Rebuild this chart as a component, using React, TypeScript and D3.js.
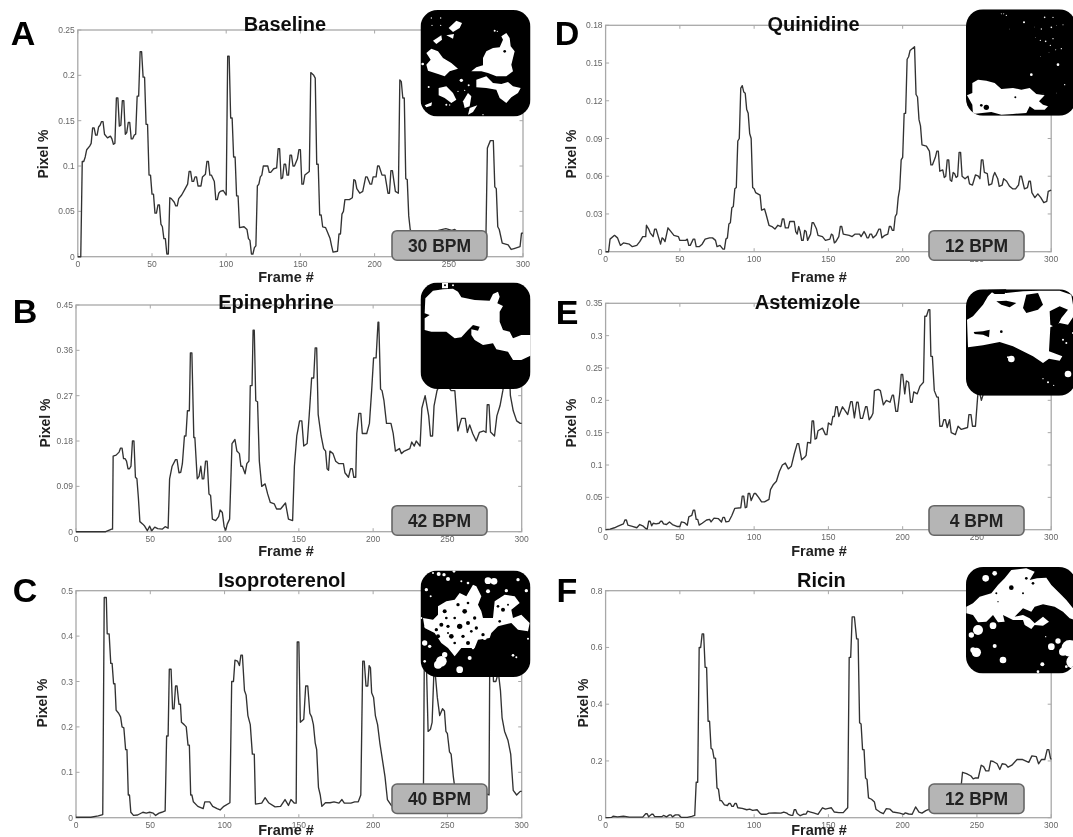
import React from "react";
import * as d3 from "d3";

type Pt = [number, number];
type Dot = [number, number, number];

const xTicks = [0, 50, 100, 150, 200, 250, 300];
const yTicksA = [0, 0.05, 0.1, 0.15, 0.2, 0.25];
const yTicksB = [0, 0.09, 0.18, 0.27, 0.36, 0.45];
const yTicksC = [0, 0.1, 0.2, 0.3, 0.4, 0.5];
const yTicksD = [0, 0.03, 0.06, 0.09, 0.12, 0.15, 0.18];
const yTicksE = [0, 0.05, 0.1, 0.15, 0.2, 0.25, 0.3, 0.35];
const yTicksF = [0, 0.2, 0.4, 0.6, 0.8];

const traceA: Pt[] = [[0,0],[2,0],[3,.105],[4,.105],[5,.11],[6,.118],[8,.122],[9,.125],[10,.142],[11,.142],[12,.134],[13,.134],[14,.143],[15,.145],[16,.149],[17,.149],[18,.135],[20,.131],[22,.133],[23,.13],[24,.124],[25,.125],[26,.175],[27,.175],[28,.144],[29,.145],[30,.172],[31,.172],[32,.135],[33,.137],[34,.148],[35,.148],[36,.13],[37,.13],[38,.134],[39,.135],[40,.177],[41,.177],[42,.226],[43,.226],[44,.198],[45,.198],[46,.146],[47,.146],[48,.09],[49,.09],[50,.069],[51,.069],[52,.048],[53,.048],[54,.057],[55,.057],[56,.036],[57,.033],[58,.02],[59,.02],[60,.003],[61,.003],[62,.065],[63,.064],[65,.06],[66,.056],[67,.056],[68,.064],[70,.068],[72,.074],[74,.08],[75,.094],[76,.094],[77,.083],[78,.083],[79,.088],[80,.088],[81,.078],[83,.078],[84,.088],[86,.091],[87,.105],[88,.105],[89,.09],[90,.09],[92,.083],[93,.063],[94,.063],[95,.07],[96,.072],[98,.073],[100,.068],[101,.221],[102,.221],[103,.153],[104,.153],[105,.11],[106,.11],[107,.067],[108,.067],[109,.032],[112,.033],[114,.03],[115,.02],[116,.018],[117,.003],[118,.003],[119,.01],[120,.012],[121,.078],[122,.08],[123,.088],[124,.09],[125,.1],[128,.1],[129,.093],[130,.093],[132,.097],[134,.098],[135,.119],[136,.119],[137,.086],[138,.087],[139,.102],[140,.102],[141,.09],[142,.09],[143,.112],[144,.112],[145,.1],[146,.1],[148,.108],[149,.118],[150,.118],[151,.08],[152,.08],[153,.09],[156,.094],[157,.203],[159,.2],[160,.197],[161,.102],[162,.102],[163,.046],[164,.046],[165,.033],[167,.032],[168,.028],[170,.02],[171,.012],[172,.005],[175,.006],[176,.025],[177,.025],[178,.047],[179,.05],[180,.063],[183,.063],[185,.065],[186,.085],[187,.084],[188,.075],[190,.07],[192,.072],[194,.088],[195,.088],[197,.08],[198,.08],[199,.088],[201,.088],[202,.1],[203,.1],[205,.09],[207,.09],[209,.07],[210,.07],[211,.095],[212,.095],[214,.072],[216,.07],[217,.195],[218,.193],[219,.175],[220,.175],[221,.086],[222,.085],[223,.045],[224,.03],[226,.025],[230,.02],[240,.025],[243,.029],[248,.031],[252,.029],[254,.03],[258,.025],[265,.02],[272,.018],[275,.02],[276,.12],[278,.128],[280,.128],[281,.077],[282,.075],[283,.033],[284,.03],[286,.015],[290,.013],[292,.008],[294,.009],[298,.011],[299,.026],[300,.026]];
const traceB: Pt[] = [[0,0],[20,0],[24,.005],[24.6,.005],[25,.15],[27,.152],[29,.158],[30,.166],[31,.166],[32,.145],[33,.145],[34,.14],[35,.125],[36,.125],[37,.13],[38,.18],[39,.18],[40,.108],[41,.105],[42,.067],[43,.02],[45,.015],[46,.012],[48,.002],[49.6,.011],[51,.002],[53,.009],[55,.006],[58,.005],[60,.01],[62,.007],[63,.105],[64.7,.13],[67,.143],[68,.143],[69.3,.117],[70.5,.118],[71.6,.135],[73,.19],[74,.19],[75,.24],[76.3,.24],[77,.355],[78,.355],[79.3,.187],[80,.187],[81.6,.105],[82.8,.11],[84,.13],[85,.105],[86,.105],[87.2,.14],[88.3,.14],[89.5,.075],[90.6,.072],[91.8,.025],[94,.022],[96,.03],[97,.043],[98.5,.038],[99.7,.01],[100.8,.003],[101.8,.015],[103.4,.025],[105,.175],[107,.183],[108.3,.16],[110,.155],[111,.13],[112,.13],[113.8,.115],[115,.135],[116.4,.14],[117.3,.29],[118.5,.29],[119.2,.4],[120,.4],[121,.26],[122.2,.258],[123.4,.14],[125,.09],[127.3,.095],[129,.075],[130.8,.058],[133.5,.055],[135,.045],[137.7,.045],[141,.057],[143,.025],[145.8,.022],[147,.13],[148.6,.19],[150.5,.22],[152,.22],[153.3,.17],[155.6,.175],[157,.232],[158.6,.305],[160,.305],[161,.365],[162,.365],[163,.233],[165,.19],[166.7,.165],[168,.16],[169,.125],[170,.122],[170.9,.16],[173,.155],[174.8,.14],[177,.135],[180,.135],[181,.117],[183.4,.108],[184.8,.125],[186,.125],[187,.108],[188.3,.108],[189,.195],[190.4,.235],[191.7,.235],[192.7,.195],[195.7,.195],[197.5,.215],[199,.28],[200.3,.345],[202,.345],[203.3,.416],[203.8,.416],[205,.283],[206,.28],[207.3,.26],[209,.215],[212,.215],[213.5,.195],[215,.16],[217.7,.165],[219,.155],[221,.16],[224.7,.165],[226,.178],[227.7,.17],[229,.18],[231.6,.17],[232.8,.245],[235,.27],[237.4,.23],[238.6,.19],[240,.19],[241,.25],[243,.28],[244.5,.29],[246,.33],[248,.32],[250,.29],[252.5,.28],[255,.28],[257,.2],[259.5,.225],[262,.225],[263.4,.197],[265,.212],[267,.195],[269.4,.18],[271.5,.197],[274.5,.2],[276,.197],[276.8,.252],[278,.252],[279,.198],[281.7,.19],[283.3,.23],[285.4,.25],[287.3,.28],[288.4,.3],[290,.33],[291.5,.33],[292.4,.27],[294.3,.24],[296.6,.22],[299,.215],[300,.215]];
const traceC: Pt[] = [[0,.001],[10,.001],[15,.004],[18,.007],[19,.485],[20.4,.485],[21,.405],[22.3,.405],[23.4,.34],[24.3,.34],[25.3,.295],[26.2,.295],[27,.237],[28.7,.23],[30,.222],[31,.2],[32.2,.198],[33.4,.15],[34.3,.15],[35.2,.05],[36,.05],[36.9,.012],[38.7,.005],[41.5,.006],[45,.012],[47.3,.01],[49.6,.012],[52,.01],[53.6,.005],[55.9,.01],[57.7,.012],[60,.015],[61,.18],[62,.18],[62.8,.327],[64,.327],[65,.24],[66,.24],[67,.29],[68,.29],[69.3,.25],[70.3,.25],[71,.21],[72.8,.205],[74.2,.2],[75.4,.16],[76.3,.16],[77.2,.05],[78,.05],[79,.035],[82,.025],[85.6,.02],[86.7,.035],[90,.035],[92,.025],[95,.02],[97,.017],[99.5,.025],[103.6,.033],[104.8,.3],[106,.3],[107,.347],[108.7,.345],[110,.335],[111,.358],[112,.358],[113.4,.28],[114.5,.27],[115.7,.225],[117.3,.205],[118.7,.14],[120,.14],[120.8,.03],[125,.032],[127.3,.044],[129.6,.033],[134,.024],[137.7,.025],[140.7,.04],[143,.027],[144.7,.04],[147,.032],[148.2,.032],[148.9,.387],[150,.387],[151,.21],[153.3,.217],[154.6,.29],[156,.29],[157.4,.23],[158.6,.222],[159.8,.205],[161,.165],[162,.15],[163.2,.067],[164.4,.05],[165.5,.025],[167.9,.033],[171,.033],[173.7,.035],[177,.032],[179,.04],[180.6,.032],[185,.032],[187.6,.035],[190,.035],[191.7,.05],[193,.345],[194,.345],[195.2,.29],[196.4,.29],[197.3,.335],[198.2,.33],[199,.275],[200.3,.265],[201.5,.225],[203,.205],[204.5,.165],[206.6,.12],[208,.09],[209.6,.04],[212,.028],[213,.025],[225,.03],[233.8,.03],[234.4,.33],[235.6,.37],[237,.19],[238.6,.195],[239.7,.21],[241,.33],[242,.31],[243.2,.265],[244.8,.225],[246.7,.24],[248,.235],[249,.19],[250,.185],[251.4,.145],[252.5,.14],[254,.09],[254.8,.07],[260,.06],[270,.055],[276.8,.052],[278,.05],[278.5,.35],[280,.4],[281,.3],[282.6,.3],[284.3,.32],[285.7,.28],[286.8,.22],[288.5,.19],[290.8,.17],[292.6,.14],[294.3,.06],[296.6,.05],[299,.058],[300,.058]];
const traceD: Pt[] = [[0,0],[2,0],[3,.01],[6,.013],[8,.011],[9,.008],[10,.005],[12,.007],[16,.006],[18,.004],[21,.005],[23,.008],[25,.012],[27,.012],[27.5,.021],[29,.018],[30,.015],[32,.012],[33,.018],[34,.018],[36,.01],[37,.006],[38,.011],[39,.01],[40,.008],[42,.019],[44,.016],[46,.013],[49,.012],[50,.009],[54,.009],[55,.01],[56,.005],[57,.005],[59,.01],[60,.01],[61,.004],[63,.004],[65,.006],[67,.01],[70,.011],[72,.011],[74,.009],[75,.004],[77,.005],[79,.002],[80,.002],[81,.01],[82,.011],[83,.022],[84,.023],[85,.035],[86,.036],[87,.05],[88,.051],[89,.088],[90,.09],[91,.13],[92,.132],[93,.127],[94,.126],[95,.113],[96,.11],[97,.094],[98,.09],[99,.051],[100,.05],[101,.047],[104,.045],[105,.033],[107,.034],[108,.03],[110,.021],[112,.02],[114,.018],[116,.021],[118,.02],[119,.026],[120,.026],[121,.019],[123,.019],[124,.024],[127,.024],[128,.016],[129,.014],[130,.02],[131,.016],[132,.009],[133,.009],[134,.017],[135,.016],[136,.009],[138,.014],[139,.023],[140,.023],[142,.018],[143,.013],[146,.012],[148,.009],[151,.01],[152,.014],[153,.013],[154,.007],[155,.008],[157,.012],[158,.02],[159,.02],[160,.014],[164,.013],[166,.012],[168,.014],[171,.014],[172,.012],[174,.016],[175,.014],[176,.011],[177,.011],[178,.014],[179,.014],[180,.011],[182,.013],[184,.018],[185,.018],[186,.011],[188,.013],[190,.014],[191,.02],[192,.02],[193,.017],[194,.017],[195,.028],[196,.03],[197,.043],[198,.05],[199,.073],[200,.075],[201,.11],[202,.11],[203,.153],[204,.155],[205,.16],[208,.163],[209,.125],[210,.123],[211,.105],[212,.1],[213,.085],[216,.084],[218,.08],[219,.069],[220,.069],[222,.075],[223,.08],[224,.08],[225,.064],[227,.065],[228,.059],[229,.06],[230,.073],[231,.073],[232,.057],[233,.056],[234,.063],[235,.062],[236,.059],[237,.06],[238,.079],[239,.079],[240,.06],[242,.058],[244,.06],[245,.054],[247,.053],[249,.061],[251,.06],[252,.058],[253,.073],[254,.073],[255,.063],[257,.062],[258,.053],[260,.054],[261,.06],[262,.063],[264,.058],[265,.052],[267,.053],[268,.058],[270,.056],[272,.052],[274,.05],[276,.05],[278,.053],[279,.06],[280,.06],[282,.05],[284,.051],[285,.056],[286,.056],[287,.047],[289,.043],[291,.046],[293,.043],[295,.039],[297,.04],[298,.048],[300,.049]];
const traceE: Pt[] = [[0,0],[3,.001],[6,.003],[8,.005],[10,.007],[12,.009],[13,.015],[14,.015],[15,.007],[18,.005],[21,.003],[23,.008],[25,.006],[27,.002],[28,.001],[29,.013],[30,.013],[31,.006],[32,.01],[34,.009],[36,.01],[37,.013],[38,.013],[39,.009],[41,.008],[43,.012],[45,.008],[48,.005],[50,.005],[51,.012],[53,.011],[55,.007],[56,.02],[58,.022],[59,.03],[60,.03],[61,.016],[62,.016],[63,.007],[65,.01],[68,.015],[70,.016],[71,.012],[73,.018],[76,.017],[78,.012],[79,.019],[80,.019],[81,.012],[83,.013],[85,.022],[87,.033],[91,.034],[92,.052],[93,.052],[94,.034],[95,.035],[96,.056],[97,.056],[98,.045],[100,.056],[101,.056],[103,.05],[105,.043],[107,.043],[110,.047],[111,.062],[113,.07],[115,.075],[117,.09],[119,.1],[121,.103],[123,.094],[125,.098],[127,.117],[129,.133],[130,.133],[132,.108],[134,.112],[135,.115],[136,.135],[138,.134],[139,.168],[140,.168],[141,.14],[142,.141],[143,.153],[146,.157],[148,.147],[149,.147],[150,.165],[152,.162],[153,.175],[154,.175],[155,.19],[156,.19],[157,.175],[159.5,.19],[161,.185],[163,.178],[165,.198],[166,.198],[167.5,.173],[169,.197],[170,.197],[171.6,.172],[173,.172],[175,.19],[176,.19],[177.4,.17],[179,.175],[180,.18],[181,.215],[183.5,.217],[185,.215],[187,.193],[189,.2],[191.5,.197],[193,.208],[193.8,.208],[195.4,.183],[196.6,.183],[198,.21],[199,.24],[200,.24],[201.4,.21],[202.5,.23],[204,.228],[205.3,.197],[206.4,.197],[207.5,.213],[209.8,.21],[211.7,.222],[214,.228],[214.9,.33],[216,.33],[217.4,.34],[218.3,.34],[219,.268],[220,.268],[221.3,.215],[223,.205],[224,.205],[225,.16],[226.6,.16],[227.7,.17],[228.8,.17],[230,.158],[231.6,.17],[232.7,.15],[235.5,.147],[237.3,.16],[239.5,.155],[243.7,.158],[244.6,.178],[246,.178],[247,.16],[249,.16],[250.3,.2],[251,.22],[253,.2],[255,.215],[260,.24],[270,.25],[280,.26],[290,.26],[300,.27]];
const traceF: Pt[] = [[0,0],[4,.001],[5,.005],[8,.003],[12,.005],[16,.002],[25,.002],[27,.014],[28,.014],[29,.003],[31,.012],[32,.012],[33,.004],[38,.004],[39,.008],[41,.003],[43,.01],[44,.01],[45,.003],[47,.01],[49,.01],[51,.001],[55,.001],[58,.005],[60,.008],[61,.125],[62,.125],[63,.6],[64,.6],[65,.648],[66,.648],[67,.53],[68,.53],[69,.34],[70,.34],[71,.245],[72,.24],[73,.21],[74,.21],[75,.105],[76,.1],[77,.06],[78,.06],[80,.045],[82,.043],[83,.05],[84,.05],[85,.04],[86,.04],[87,.05],[88,.05],[89,.035],[92,.033],[95,.028],[97,.03],[99,.026],[102,.028],[104,.015],[105,.012],[108,.012],[110,.016],[114,.017],[118,.016],[120,.02],[122,.016],[123,.012],[125,.008],[126,.008],[127,.028],[128,.028],[129,.015],[131,.007],[133,.012],[135,.013],[136,.023],[138,.02],[140,.017],[143,.012],[144,.02],[146,.035],[148,.03],[150,.033],[152,.035],[154,.02],[157,.018],[160,.018],[162,.03],[163,.035],[164,.565],[165,.565],[166,.708],[167.5,.708],[169,.63],[170,.63],[171,.335],[172,.33],[173,.24],[174,.24],[175,.14],[176,.135],[177,.07],[179,.065],[181,.055],[182,.03],[184.7,.02],[187,.014],[189,.032],[191.5,.03],[193.4,.02],[198,.016],[200.7,.012],[201.8,.017],[204,.013],[206.4,.012],[208.7,.038],[211,.02],[213,.016],[215.6,.025],[218,.03],[225,.03],[232,.03],[238,.04],[240.3,.16],[243,.155],[246,.147],[247.5,.137],[249,.14],[250.9,.14],[252.9,.185],[254.5,.18],[256,.165],[258,.165],[259.3,.2],[261,.198],[263.6,.19],[265.4,.17],[267,.19],[269.3,.188],[271,.178],[273.5,.185],[277,.205],[280.8,.205],[284.9,.195],[287,.218],[290,.215],[291.5,.19],[293.4,.205],[295.7,.205],[297.3,.24],[298.4,.24],[299.5,.21],[300,.205]];

// Inset micrographs: outlines in a 0-330 unit image space
const whiteA: Pt[][] = [
  [[205,130],[225,120],[245,118],[255,95],[250,85],[265,75],[275,90],[278,115],[290,130],[285,150],[280,170],[285,190],[265,205],[235,205],[210,195],[190,190],[160,190],[175,178],[195,172],[195,150]],
  [[175,215],[205,205],[225,225],[250,228],[270,222],[285,235],[308,240],[300,255],[280,268],[265,285],[245,270],[235,245],[205,240],[175,238]],
  [[25,135],[40,122],[60,130],[75,150],[100,165],[120,182],[95,190],[80,205],[60,198],[30,188],[25,170],[38,155]],
  [[92,60],[115,38],[132,45],[125,60],[105,72]],
  [[45,98],[70,82],[72,95],[55,108]],
  [[85,82],[108,78],[105,92]],
  [[62,240],[85,235],[105,255],[115,275],[100,285],[80,270],[62,262]],
  [[135,280],[150,255],[160,265],[155,295],[140,300]],
  [[20,292],[42,283],[40,293],[25,298]],
  [[155,300],[178,292],[165,312],[150,320]],
];
const specksA: Dot[] = [[130,217,5],[32,237,3],[152,232,3],[230,68,3],[238,70,2],[14,168,4],[40,30,2],[68,30,2],[42,52,2],[68,52,2],[85,290,3],[95,291,2],[140,247,2],[120,250,2],[195,320,2]];
const holesA: Dot[] = [[260,130,4]];

const whiteB: Pt[][] = [
  [[22,55],[45,32],[75,28],[105,26],[120,35],[130,52],[170,60],[215,62],[225,42],[240,35],[245,50],[238,70],[255,78],[245,95],[245,125],[255,150],[275,155],[285,175],[310,165],[340,165],[342,225],[310,240],[285,240],[270,215],[235,208],[225,190],[195,195],[170,180],[160,165],[160,148],[180,152],[185,140],[165,135],[150,150],[130,172],[110,175],[85,155],[40,155],[20,150],[20,115],[35,105],[20,100]],
  [[72,8],[90,8],[90,25],[72,25]],
];
const holesB: Dot[] = [[81,16,3]];
const specksB: Dot[] = [[105,16,3]];

const whiteC: Pt[][] = [
  [[60,115],[85,100],[110,95],[125,75],[145,85],[165,50],[175,55],[190,85],[180,110],[190,130],[195,150],[225,150],[230,100],[260,80],[290,85],[305,105],[280,125],[285,150],[310,140],[335,165],[330,190],[300,185],[280,165],[240,175],[220,195],[215,210],[180,215],[170,240],[130,240],[110,265],[90,240],[70,225],[50,195],[20,180],[15,150],[45,155],[60,140]],
];
const holesC: Dot[] = [[80,130,6],[120,110,5],[140,130,7],[110,150,4],[150,165,6],[90,175,5],[125,175,8],[170,150,5],[70,170,6],[100,205,7],[135,205,5],[160,190,4],[255,125,6],[245,160,4],[175,180,5],[55,185,5],[90,195,3],[110,225,4],[150,225,6],[205,135,8],[150,105,4],[60,205,6],[85,150,4],[195,200,5],[240,115,4],[270,110,3]];
const specksC: Dot[] = [[210,38,10],[228,40,10],[62,18,6],[78,20,5],[90,33,6],[108,10,4],[300,35,5],[325,68,5],[25,65,5],[38,85,3],[210,70,6],[265,68,5],[150,45,4],[10,150,3],[25,175,5],[20,225,8],[35,235,5],[70,280,16],[60,290,12],[80,260,8],[20,280,4],[125,305,10],[155,270,6],[165,240,4],[200,210,6],[285,262,4],[295,268,3],[330,212,3],[45,15,3],[130,40,3]];

const whiteD: Pt[][] = [
  [[28,225],[45,215],[70,218],[95,225],[115,243],[150,240],[175,245],[200,240],[220,258],[245,262],[228,280],[240,290],[255,295],[245,305],[215,305],[200,295],[190,315],[150,318],[115,320],[85,312],[30,318],[28,290],[12,262],[28,255]],
];
const holesD: Dot[] = [[157,268,3],[70,298,8],[55,292,4]];
const specksD: Dot[] = [[115,17,1.5],[122,17,1.5],[130,22,2],[183,43,3],[245,28,2.5],[270,28,2],[140,63,1],[215,57,1],[235,63,2],[265,58,2.5],[280,52,1],[300,50,1.5],[218,88,1],[232,97,2],[248,100,2.5],[270,92,2],[262,112,2],[295,122,2],[278,125,1.5],[258,133,1],[232,145,1],[285,170,4],[205,200,4],[305,230,2],[280,255,1],[240,258,1]];

const whiteE: Pt[][] = [
  [[12,95],[30,85],[60,50],[75,25],[90,10],[130,15],[180,10],[230,8],[290,8],[325,20],[335,80],[315,110],[290,105],[262,118],[258,190],[298,205],[290,218],[258,212],[240,225],[210,205],[180,190],[150,175],[110,162],[60,172],[15,178]],
];
const blackE: Pt[][] = [
  [[75,5],[130,3],[125,18],[95,18]],
  [[100,40],[130,38],[160,45],[140,58],[115,50]],
  [[190,20],[225,15],[240,50],[225,65],[190,75],[180,60]],
  [[260,70],[290,55],[315,65],[295,90],[280,120],[262,110]],
  [[32,132],[60,130],[80,125],[78,148],[60,140],[35,138]],
];
const holesE: Dot[] = [[115,131,4]];
const specksE: Dot[] = [[145,213,10],[315,258,10],[135,208,3],[240,272,2],[255,283,3],[272,292,2],[300,155,3],[310,165,3],[330,135,3]];

const whiteF: Pt[][] = [
  [[10,125],[30,115],[50,95],[85,85],[105,60],[125,40],[145,15],[190,10],[215,20],[200,45],[222,40],[250,38],[265,60],[290,85],[310,105],[330,130],[335,165],[320,160],[300,140],[275,125],[240,118],[215,125],[205,140],[180,130],[155,155],[180,150],[200,160],[215,175],[240,155],[258,170],[240,182],[215,180],[205,192],[185,180],[180,165],[150,165],[120,150],[125,170],[105,172],[90,150],[70,170],[45,172],[30,150],[10,145]],
];
const holesF: Dot[] = [[145,68,7],[100,85,3],[180,85,3],[190,40,4],[210,55,4],[105,110,2]];
const specksF: Dot[] = [[68,40,10],[95,25,7],[90,182,10],[45,195,15],[25,210,8],[40,262,14],[30,255,8],[120,285,10],[95,243,6],[238,298,6],[285,228,8],[265,245,10],[320,250,25],[300,260,12],[330,290,20],[225,320,4],[310,305,4],[248,215,2]];

const panels = [
  { letter: "A", lx: 23, ly: 45, title: "Baseline", tx: 285, ty: 31, bpm: "30 BPM", trace: traceA, yTicks: yTicksA,
    x0: 77.8, x1: 523, top: 30, bottom: 256.7, ylabX: 48, ylabY: 154, fx: 286, fy: 282, insX: 418, insY: 8, rX: 420.5, rY: 10,
    boxX: 392, boxY: 230.7, white: whiteA, black: [] as Pt[][], holes: holesA, specks: specksA },
  { letter: "B", lx: 25, ly: 323, title: "Epinephrine", tx: 276, ty: 309, bpm: "42 BPM", trace: traceB, yTicks: yTicksB,
    x0: 76, x1: 521.7, top: 305, bottom: 531.7, ylabX: 50, ylabY: 423, fx: 286, fy: 556, insX: 418, insY: 280, rX: 420.5, rY: 282.5,
    boxX: 392, boxY: 505.7, white: whiteB, black: [] as Pt[][], holes: holesB, specks: specksB },
  { letter: "C", lx: 25, ly: 602, title: "Isoproterenol", tx: 282, ty: 587, bpm: "40 BPM", trace: traceC, yTicks: yTicksC,
    x0: 76, x1: 521.7, top: 590.7, bottom: 817.7, ylabX: 47, ylabY: 703, fx: 286, fy: 835, insX: 418, insY: 568, rX: 420.5, rY: 570.5,
    boxX: 392, boxY: 784, white: whiteC, black: [] as Pt[][], holes: holesC, specks: specksC },
  { letter: "D", lx: 567, ly: 45, title: "Quinidine", tx: 813.6, ty: 31, bpm: "12 BPM", trace: traceD, yTicks: yTicksD,
    x0: 605.6, x1: 1051.2, top: 25.3, bottom: 251.7, ylabX: 576, ylabY: 154, fx: 819, fy: 282, insX: 963, insY: 8, rX: 966, rY: 9.3,
    boxX: 929, boxY: 230.7, white: whiteD, black: [] as Pt[][], holes: holesD, specks: specksD },
  { letter: "E", lx: 567, ly: 324, title: "Astemizole", tx: 807.5, ty: 309, bpm: "4 BPM", trace: traceE, yTicks: yTicksE,
    x0: 605.6, x1: 1051.2, top: 303.3, bottom: 529.7, ylabX: 576, ylabY: 423, fx: 819, fy: 556, insX: 963, insY: 288, rX: 966, rY: 289.3,
    boxX: 929, boxY: 505.7, white: whiteE, black: blackE, holes: holesE, specks: specksE },
  { letter: "F", lx: 567, ly: 602, title: "Ricin", tx: 821.4, ty: 587, bpm: "12 BPM", trace: traceF, yTicks: yTicksF,
    x0: 605.6, x1: 1051.2, top: 590.7, bottom: 817.7, ylabX: 588, ylabY: 703, fx: 819, fy: 835, insX: 963, insY: 565, rX: 966, rY: 567,
    boxX: 929, boxY: 784, white: whiteF, black: [] as Pt[][], holes: holesF, specks: specksF },
];

const sans = "'Liberation Sans', Arial, sans-serif";
const axisGrey = "#a8a8a8";
const tickInk = "#666";
const lineInk = "#333";

function Panel({ p, i }: { p: (typeof panels)[number]; i: number }) {
  const x = d3.scaleLinear().domain([0, 300]).range([p.x0, p.x1]);
  const y = d3.scaleLinear().domain([0, d3.max(p.yTicks) as number]).range([p.bottom, p.top]);
  const path = d3.line<Pt>().x((d) => x(d[0])).y((d) => y(d[1])).curve(d3.curveLinear)(p.trace) as string;
  const im = d3.scaleLinear().domain([0, 330]).range([0, 110]);
  const blob = d3.line<Pt>().x((d) => im(d[0])).y((d) => im(d[1])).curve(d3.curveLinearClosed);
  const tl = 3.5;
  return (
    <g>
      <rect x={p.x0} y={p.top} width={p.x1 - p.x0} height={p.bottom - p.top} fill="none" stroke={axisGrey} strokeWidth={1.3} />
      {xTicks.map((t) => (
        <g key={t}>
          <line x1={x(t)} x2={x(t)} y1={p.bottom} y2={p.bottom - tl} stroke={axisGrey} />
          <line x1={x(t)} x2={x(t)} y1={p.top} y2={p.top + tl} stroke={axisGrey} />
          <text x={x(t)} y={p.bottom + 10.5} textAnchor="middle" fontSize={8.5} fontFamily={sans} fill={tickInk}>{t}</text>
        </g>
      ))}
      {p.yTicks.map((t) => (
        <g key={t}>
          <line x1={p.x0} x2={p.x0 + tl} y1={y(t)} y2={y(t)} stroke={axisGrey} />
          <line x1={p.x1} x2={p.x1 - tl} y1={y(t)} y2={y(t)} stroke={axisGrey} />
          <text x={p.x0 - 3} y={y(t) + 3} textAnchor="end" fontSize={8.5} fontFamily={sans} fill={tickInk}>{t}</text>
        </g>
      ))}
      <path d={path} fill="none" stroke={lineInk} strokeWidth={1.35} strokeLinejoin="round" />
      <text x={p.tx} y={p.ty} textAnchor="middle" fontSize={20} fontWeight="bold" fontFamily={sans} fill="#111">{p.title}</text>
      <text x={p.lx} y={p.ly} textAnchor="middle" fontSize={34} fontWeight="bold" fontFamily={sans} fill="#000">{p.letter}</text>
      <text transform={`translate(${p.ylabX},${p.ylabY}) rotate(-90)`} textAnchor="middle" fontSize={14} fontWeight="bold" fontFamily={sans} fill="#222">Pixel %</text>
      <text x={p.fx} y={p.fy} textAnchor="middle" fontSize={14.5} fontWeight="bold" fontFamily={sans} fill="#222">Frame #</text>
      <rect x={p.boxX} y={p.boxY} width={95} height={29.5} rx={5} fill="#b5b5b5" stroke="#666" strokeWidth={1.6} />
      <text x={p.boxX + 47.5} y={p.boxY + 21} textAnchor="middle" fontSize={17.5} fontWeight="bold" fontFamily={sans} fill="#222">{p.bpm}</text>
      <clipPath id={`inset${i}`}>
        <rect x={p.rX} y={p.rY} width={110} height={106.5} rx={17} />
      </clipPath>
      <g clipPath={`url(#inset${i})`}>
        <rect x={p.rX} y={p.rY} width={110} height={106.5} fill="#000" />
        <g transform={`translate(${p.insX},${p.insY})`}>
          {p.white.map((b, k) => <path key={k} d={blob(b) as string} fill="#fff" />)}
          {p.black.map((b, k) => <path key={k} d={blob(b) as string} fill="#000" />)}
          {p.holes.map((d, k) => <circle key={k} cx={im(d[0])} cy={im(d[1])} r={im(d[2])} fill="#000" />)}
          {p.specks.map((d, k) => <circle key={k} cx={im(d[0])} cy={im(d[1])} r={im(d[2])} fill="#fff" />)}
        </g>
      </g>
    </g>
  );
}

export default function App() {
  return (
    <svg width={1073} height={837} style={{ position: "absolute", left: 0, top: 0, display: "block", background: "#fff" }}>
      <defs>
        <filter id="soft" x="0" y="0" width="100%" height="100%">
          <feGaussianBlur stdDeviation="0.5" />
        </filter>
      </defs>
      <g filter="url(#soft)">
        <rect width={1073} height={837} fill="#fff" />
        {panels.map((p, i) => <Panel key={p.letter} p={p} i={i} />)}
      </g>
    </svg>
  );
}
